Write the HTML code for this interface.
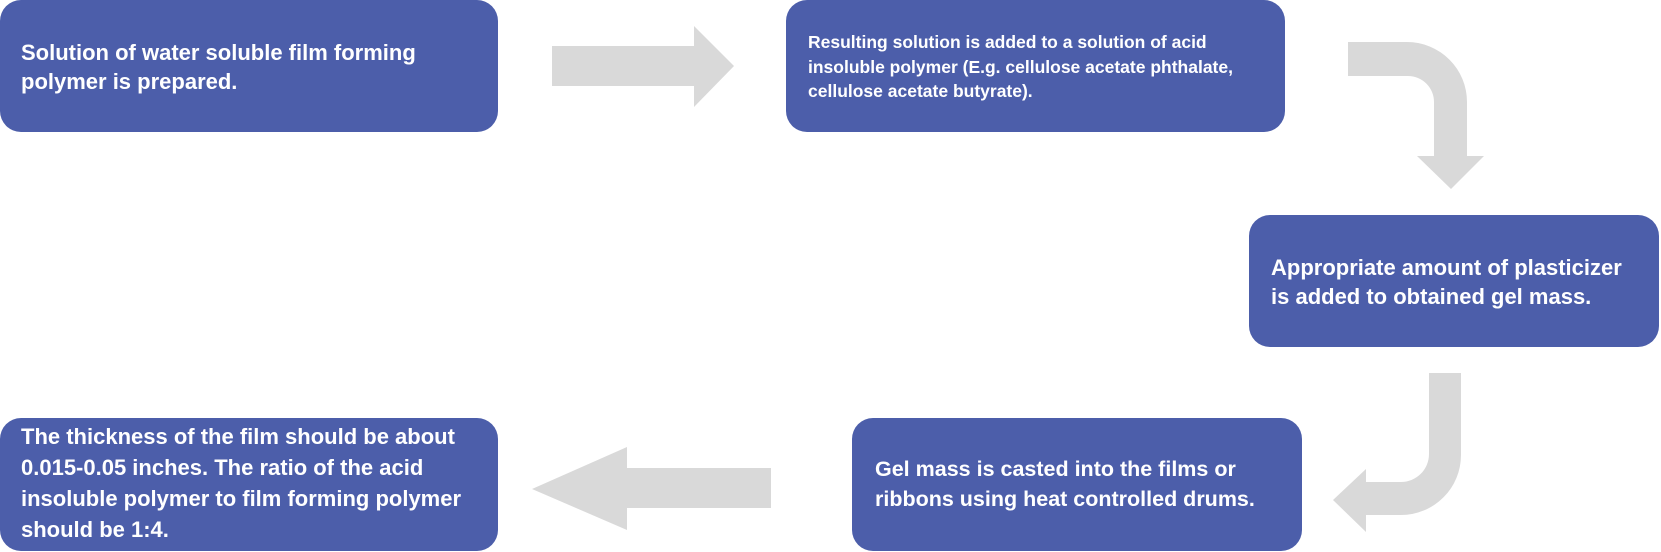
<!DOCTYPE html>
<html><head><meta charset="utf-8"><style>
body{margin:0;width:1661px;height:552px;background:#fff;position:relative;overflow:hidden;font-family:"Liberation Sans",Arial,sans-serif;}
.b{position:absolute;background:#4C5EAA;border-radius:21px;color:#fff;font-weight:bold;box-sizing:border-box;}
.b div{position:absolute;white-space:nowrap;}
svg{position:absolute;left:0;top:0;}
</style></head><body>
<svg width="1661" height="552">
<path fill="#D9D9D9" d="M552 46 H694 V26 L734 66 L694 107 V86 H552 Z"/>
<path fill="#D9D9D9" d="M1348 42 H1407 A60 60 0 0 1 1467 102 V156 H1484 L1451 189 L1417 156 H1434 V102 A26 26 0 0 0 1408 76 H1348 Z"/>
<path fill="#D9D9D9" d="M1429 373 H1461 V455 A60 60 0 0 1 1401 515 H1366 V532 L1333 500 L1366 469 V482 H1401 A28 28 0 0 0 1429 454 Z"/>
<path fill="#D9D9D9" d="M771 468 H627 V447 L532 489 L627 530 V508 H771 Z"/>
</svg>
<div class="b" style="left:0;top:0;width:498px;height:132px;font-size:22px;line-height:29px;">
<div style="left:21px;top:38px;">Solution of water soluble film forming<br>polymer is prepared.</div></div>
<div class="b" style="left:786px;top:0;width:499px;height:132px;font-size:17.5px;line-height:24.5px;">
<div style="left:22px;top:30px;">Resulting solution is added to a solution of acid<br>insoluble polymer (E.g. cellulose acetate phthalate,<br>cellulose acetate butyrate).</div></div>
<div class="b" style="left:1249px;top:215px;width:410px;height:132px;font-size:22px;line-height:29px;">
<div style="left:22px;top:38px;">Appropriate amount of plasticizer<br>is added to obtained gel mass.</div></div>
<div class="b" style="left:852px;top:418px;width:450px;height:133px;font-size:21.5px;line-height:30px;">
<div style="left:23px;top:36px;">Gel mass is casted into the films or<br>ribbons using heat controlled drums.</div></div>
<div class="b" style="left:0;top:418px;width:498px;height:133px;font-size:22px;line-height:31px;">
<div style="left:21px;top:3px;">The thickness of the film should be about<br>0.015-0.05 inches. The ratio of the acid<br>insoluble polymer to film forming polymer<br>should be 1:4.</div></div>
</body></html>
